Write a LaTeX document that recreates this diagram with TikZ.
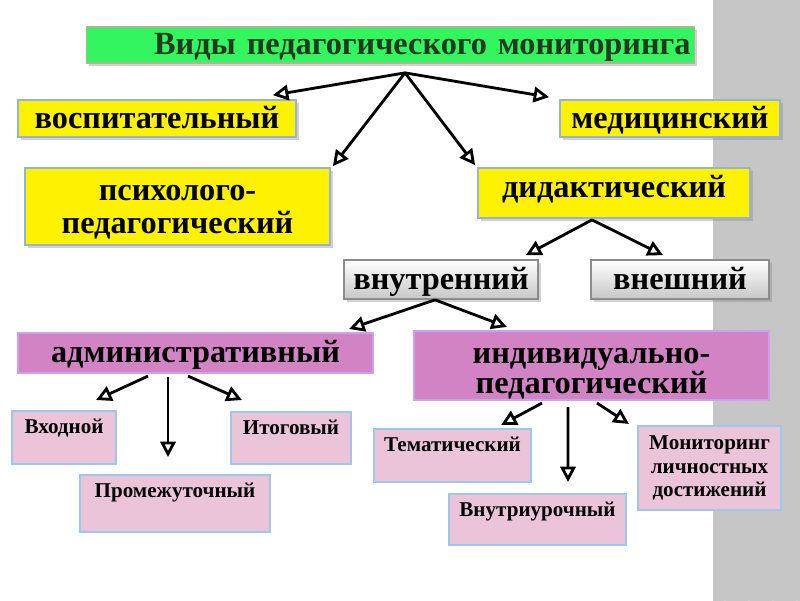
\documentclass[tikz,border=0pt]{standalone}
\usepackage{fontspec}
\setmainfont{Liberation Serif}
\usepackage{tikz}
\usetikzlibrary{calc}
\usetikzlibrary{arrows.meta}
\usetikzlibrary{shadows}

\definecolor{titlegreen}{HTML}{33F560}
\definecolor{titletext}{HTML}{1F3A1F}
\definecolor{greenedge}{HTML}{A9B98A}
\definecolor{yellowedge}{HTML}{95B3D7}
\definecolor{orchidfill}{HTML}{D283C4}
\definecolor{orchidedge}{HTML}{CFA0F0}
\definecolor{pinkfill}{HTML}{EBC4DA}
\definecolor{pinkedge}{HTML}{9DC8EE}
\definecolor{grayedge}{HTML}{8C8C8C}
\definecolor{stripgray}{HTML}{BCBCBC}
\definecolor{stripdiam}{HTML}{C6C6C6}

\tikzset{
  bigtext/.style={font=\bfseries\fontsize{23}{23}\selectfont, text height=14pt, text depth=0pt},
  twolines/.style={align=center, text depth=0pt},
  smalltext/.style={font=\bfseries\fontsize{15}{16.5}\selectfont},
  boxshadow/.style={drop shadow={shadow xshift=2pt, shadow yshift=-2pt, opacity=.35}},
  titlebox/.style={draw=greenedge, line width=1.2pt, fill=titlegreen, text=titletext, bigtext, boxshadow},
  yellowbox/.style={draw=yellowedge, line width=1.2pt, fill=yellow, bigtext, boxshadow},
  graybox/.style={draw=grayedge, line width=1.2pt, top color=white, bottom color=black!22, bigtext, boxshadow},
  orchidbox/.style={draw=orchidedge, line width=1.5pt, fill=orchidfill, bigtext},
  pinkbox/.style={draw=pinkedge, line width=1.5pt, fill=pinkfill, smalltext},
  topbox/.style={pinkbox, anchor=north, inner ysep=0.1cm, text height=0.45cm},
  arr/.style={line width=2pt, -{Triangle[open, length=11pt, width=11pt]}}
}

\begin{document}
\begin{tikzpicture}[x=0.025cm, y=-0.025cm]
\useasboundingbox (0,0) rectangle (800,600);
\fill[white] (0,0) rectangle (800,600);
% grey strip on the right
\fill[stripgray] (713,0) rectangle (800,600);
\begin{scope}
\clip (713,0) rectangle (800,600);
\foreach \i in {0,...,4} {
 \foreach \j in {0,...,25} {
  \fill[stripdiam] (713+24*\i,24*\j) ++(-12,0) -- ++(12,-12) -- ++(12,12) -- ++(-12,12) -- cycle;
  \fill[stripdiam] (725+24*\i,12+24*\j) ++(-12,0) -- ++(12,-12) -- ++(12,12) -- ++(-12,12) -- cycle;
 }
}
\end{scope}

% boxes
\node[titlebox, text width=15cm, align=right, inner xsep=0.1cm, minimum height=0.9cm] (vidy) at (390.5,45) {Виды педагогического мониторинга};
\node[yellowbox, minimum width=6.95cm, minimum height=0.925cm] (vosp) at (157,118.5) {воспитательный};
\node[yellowbox, minimum width=5.5cm, minimum height=0.925cm] (med) at (670,118.5) {медицинский};
\node[yellowbox, twolines, text height=38pt, minimum width=7.625cm, minimum height=1.925cm] (psih) at (177.5,206.5) {психолого-\\педагогический};
\node[yellowbox, text height=7pt, minimum width=6.8cm, minimum height=1.25cm] (did) at (614,193) {дидактический};
\node[graybox, minimum width=4.85cm, minimum height=0.975cm] (vnutr) at (441,279.5) {внутренний};
\node[graybox, minimum width=4.45cm, minimum height=0.975cm] (vnesh) at (680,279.5) {внешний};
\node[orchidbox, minimum width=8.875cm, minimum height=1cm] (adm) at (195.5,353) {административный};
\node[orchidbox, twolines, text height=40pt, minimum width=8.875cm, minimum height=1.725cm] (ind) at (591.5,365.5) {индивидуально-\\[-1.5pt]педагогический};

\node[topbox, minimum width=2.6cm, text depth=0.675cm] (vhod) at (64,410) {Входной};
\node[topbox, minimum width=3cm, text depth=0.65cm] (itog) at (291,411) {Итоговый};
\node[topbox, minimum width=4.75cm, text depth=0.775cm] (prom) at (175,474) {Промежуточный};
\node[topbox, minimum width=3.925cm, text depth=0.675cm] (tem) at (452.5,428) {Тематический};
\node[topbox, minimum width=4.425cm, text depth=0.625cm] (vnurok) at (537.5,493) {Внутриурочный};
\node[pinkbox, align=center, minimum width=3.575cm, minimum height=2.1cm] (monit) at (709.5,468) {Мониторинг\\личностных\\достижений};

% forks
\coordinate (vidy-fork) at ($(vidy.south)+(14.5,9)$);
\coordinate (did-fork) at ($(did.south)+(-22,1)$);
\coordinate (vnutr-fork) at ($(vnutr.south)+(-6,0)$);

% arrows
\draw[arr] (vidy-fork) -- ($(vosp.north east)+(-24,-4)$);
\draw[arr] (vidy-fork) -- ($(med.north west)+(-10,-2)$);
\draw[arr] (vidy-fork) -- ($(psih.north east)+(2,-1)$);
\draw[arr] (vidy-fork) -- ($(did.north west)+(-2,-2)$);
\draw[arr] (did-fork) -- ($(vnutr.north east)+(-13,-4)$);
\draw[arr] (did-fork) -- ($(vnesh.north)+(-17,-4)$);
\draw[arr] (vnutr-fork) -- ($(adm.north east)+(-25,-3)$);
\draw[arr] (vnutr-fork) -- ($(ind.north west)+(94,-3)$);
\draw[arr] ($(adm.south)+(-47.5,2)$) -- ($(vhod.north east)+(-21,-10)$);
\draw[arr] ($(adm.south)+(-27.5,3)$) -- ($(prom.north)+(-7,-17)$);
\draw[arr] ($(adm.south)+(-7.5,2)$) -- ($(itog.north west)+(12,-11)$);
\draw[arr] ($(ind.south)+(-49.5,2)$) -- ($(tem.north east)+(-31,-3)$);
\draw[arr] ($(ind.south)+(-23.5,6)$) -- ($(vnurok.north)+(30.5,-11)$);
\draw[arr] ($(ind.south)+(5.5,2)$) -- ($(monit.north west)+(-8,-1)$);
\end{tikzpicture}
\end{document}
